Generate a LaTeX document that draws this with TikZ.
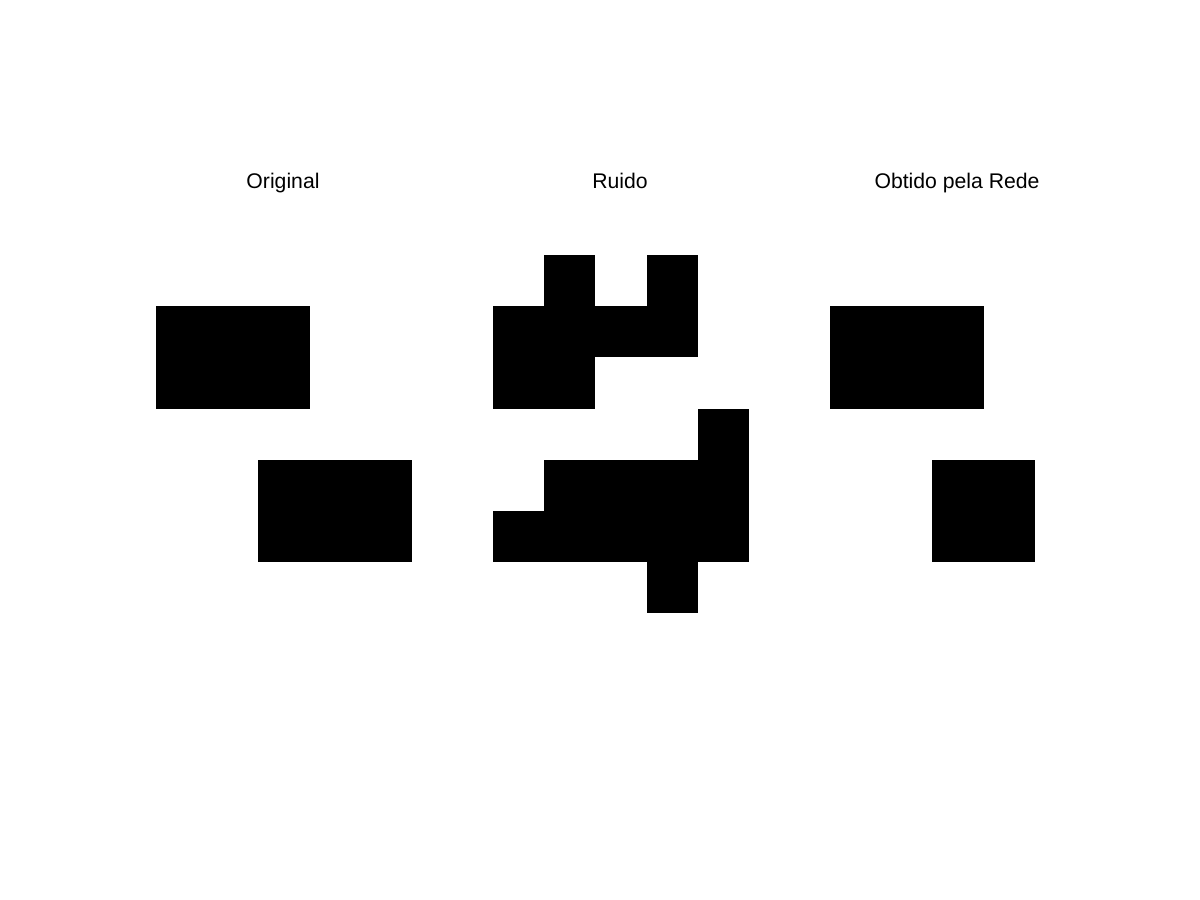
\documentclass[tikz,border=0pt]{standalone}
\usepackage{fontspec}
\setmainfont{Liberation Sans}
\begin{document}
\begin{tikzpicture}[x=1pt,y=-1pt,
  cell/.style={fill=black,draw=none},
  ttl/.style={font=\fontsize{21.2}{26}\selectfont,inner sep=0pt,anchor=base}]
\useasboundingbox[fill=white] (0,0) rectangle (1200,900);
\def\cw{51.2}
% Original (left 156, top 255)
\foreach \r/\c in {1/0,1/1,1/2,2/0,2/1,2/2,4/2,4/3,4/4,5/2,5/3,5/4}
  \fill[cell] ({156+\c*\cw},{255+\r*\cw}) rectangle ++(\cw,\cw);
% Ruido (left 493)
\foreach \r/\c in {0/1,0/3,1/0,1/1,1/2,1/3,2/0,2/1,3/4,4/1,4/2,4/3,4/4,5/0,5/1,5/2,5/3,5/4,6/3}
  \fill[cell] ({493+\c*\cw},{255+\r*\cw}) rectangle ++(\cw,\cw);
% Obtido (left 830)
\foreach \r/\c in {1/0,1/1,1/2,2/0,2/1,2/2,4/2,4/3,5/2,5/3}
  \fill[cell] ({830+\c*\cw},{255+\r*\cw}) rectangle ++(\cw,\cw);
\node[ttl] (t1) at (283,188) {Original};
\node[ttl] (t2) at (620,188) {Ruido};
\node[ttl] (t3) at (957,188) {Obtido pela Rede};
\end{tikzpicture}
\end{document}
